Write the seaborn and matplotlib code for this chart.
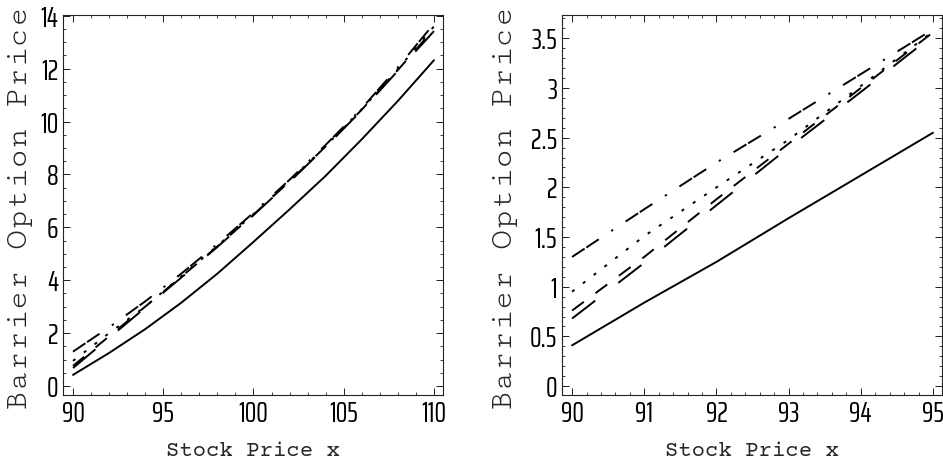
import matplotlib
matplotlib.use("Agg")
import matplotlib.pyplot as plt
from matplotlib.ticker import MultipleLocator
import pandas as pd
import seaborn as sns

# ---- data: wide range of stock prices ----
x_wide = [90, 92, 94, 96, 98, 100, 102, 104, 106, 108, 110]
wide_exact = [0.42, 1.25, 2.15, 3.15, 4.25, 5.45, 6.68, 7.95, 9.33, 10.78, 12.32]
wide_approx_1 = [1.30, 2.22, 3.20, 4.25, 5.37, 6.55, 7.80, 9.12, 10.50, 12.05, 13.70]
wide_approx_2 = [0.95, 2.00, 3.00, 4.15, 5.30, 6.50, 7.76, 9.08, 10.47, 11.98, 13.60]
wide_approx_3 = [0.76, 1.88, 3.00, 4.13, 5.28, 6.48, 7.74, 9.06, 10.45, 11.95, 13.50]
wide_approx_4 = [0.68, 1.82, 2.96, 4.10, 5.26, 6.46, 7.72, 9.04, 10.43, 11.92, 13.42]

# ---- data: close to the barrier ----
x_near = [90, 91, 92, 93, 94, 95]
near_exact = [0.41, 0.84, 1.25, 1.69, 2.12, 2.55]
near_approx_1 = [1.30, 1.78, 2.25, 2.69, 3.14, 3.59]
near_approx_2 = [0.95, 1.51, 2.00, 2.48, 3.02, 3.57]
near_approx_3 = [0.76, 1.30, 1.88, 2.44, 3.00, 3.56]
near_approx_4 = [0.68, 1.24, 1.82, 2.40, 2.96, 3.53]

series_names = ["exact", "approx 1", "approx 2", "approx 3", "approx 4"]

# tick labels
wide_xticks = [90, 95, 100, 105, 110]
wide_yticks = [0, 2, 4, 6, 8, 10, 12, 14]
wide_ytick_labels = ["0", "2", "4", "6", "8", "10", "12", "14"]
near_xticks = [90, 91, 92, 93, 94, 95]
near_yticks = [0, 0.5, 1, 1.5, 2, 2.5, 3, 3.5]
near_ytick_labels = ["0", "0.5", "1", "1.5", "2", "2.5", "3", "3.5"]

x_title = "Stock Price x"
y_title = "Barrier Option Price"

sns.set_theme(style="ticks")
plt.rcParams["font.family"] = ["Saira ExtraCondensed", "Sofia Sans Extra Condensed",
                               "DejaVu Sans"]
plt.rcParams["lines.scale_dashes"] = False
plt.rcParams["axes.linewidth"] = 0.8
plt.rcParams["axes.edgecolor"] = "#222222"

# dash patterns in points
dash_styles = {
    "exact": "",
    "approx 1": (10.8, 1.4, 10.8, 10.8, 1.6, 10.8),
    "approx 2": (2.2, 7.6),
    "approx 3": (10.5, 10.5),
    "approx 4": (21.0, 21.0),
}


def long_form(x, columns):
    frames = []
    for name, vals in zip(series_names, columns):
        frames.append(pd.DataFrame({"x": x, "price": vals, "curve": name}))
    return pd.concat(frames, ignore_index=True)


wide_df = long_form(x_wide, [wide_exact, wide_approx_1, wide_approx_2,
                             wide_approx_3, wide_approx_4])
near_df = long_form(x_near, [near_exact, near_approx_1, near_approx_2,
                             near_approx_3, near_approx_4])

fig = plt.figure(figsize=(9.43, 4.70), dpi=100)
fig.patch.set_facecolor("white")
ax1 = fig.add_axes([63 / 943, 75 / 470, 380 / 943, 380 / 470])
ax2 = fig.add_axes([562 / 943, 75 / 470, 380 / 943, 380 / 470])

thin_mono = ["Cutive Mono", "Courier Prime", "Liberation Mono"]
mono = ["Courier Prime", "Cutive Mono", "Liberation Mono"]

for ax, df in ((ax1, wide_df), (ax2, near_df)):
    sns.lineplot(data=df, x="x", y="price", style="curve", dashes=dash_styles,
                 color="black", linewidth=1.4, legend=False, ax=ax,
                 estimator=None, sort=True)
    ax.set_facecolor("white")
    ax.tick_params(which="both", direction="in", top=True, right=True,
                   colors="#222222", labelcolor="black", labelsize=21, pad=3.5)
    ax.tick_params(which="major", length=5, width=0.7)
    ax.tick_params(which="minor", length=2.5, width=0.6)
    ax.set_xlabel(x_title, fontsize=16, family=mono)
    ax.set_ylabel(y_title, fontsize=24, family=thin_mono)
    for s in ax.spines.values():
        s.set_visible(True)

ax1.set_xlim(89.446, 110.5)
ax1.set_ylim(-0.34, 14.03)
ax1.set_xticks(wide_xticks, [str(v) for v in wide_xticks])
ax1.xaxis.set_minor_locator(MultipleLocator(1))
ax1.set_yticks(wide_yticks, wide_ytick_labels)
ax1.yaxis.set_minor_locator(MultipleLocator(0.5))

ax2.set_xlim(89.86, 95.125)
ax2.set_ylim(-0.09, 3.735)
ax2.set_xticks(near_xticks, [str(v) for v in near_xticks])
ax2.xaxis.set_minor_locator(MultipleLocator(0.2))
ax2.set_yticks(near_yticks, near_ytick_labels)
ax2.yaxis.set_minor_locator(MultipleLocator(0.1))

for ax in (ax1, ax2):
    for lab in ax.get_xticklabels() + ax.get_yticklabels():
        lab.set_fontweight("normal")

ax1.xaxis.set_label_coords(0.5, -0.125)
ax2.xaxis.set_label_coords(0.5, -0.125)
ax1.yaxis.set_label_coords(-0.079, 0.49)
ax2.yaxis.set_label_coords(-0.116, 0.49)

fig.savefig("out.png", dpi=100, facecolor="white")
